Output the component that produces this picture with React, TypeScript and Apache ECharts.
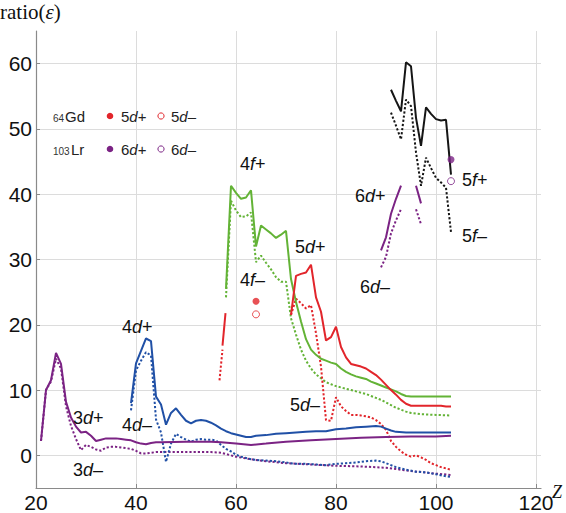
import React, { useEffect, useRef } from "react";
import * as echarts from "echarts";

// ---- data ----
const z3d = [21, 22, 23, 24, 25, 26, 27, 28, 29, 30, 31, 32, 33, 34, 35, 36, 37, 38, 39, 40, 41, 42, 43, 44, 45, 50, 55, 57, 60, 63, 66, 70, 75, 80, 85, 90, 95, 100, 103];
const r3dPlus = [2.2, 10, 11.5, 15.7, 14, 8.2, 5.8, 4.4, 3.5, 3.6, 3.0, 2.2, 2.4, 2.6, 2.6, 2.6, 2.5, 2.4, 2.3, 2.0, 1.8, 1.7, 1.9, 2.0, 2.0, 2.1, 2.1, 2.0, 1.8, 1.6, 1.8, 2.1, 2.3, 2.5, 2.7, 2.8, 2.9, 2.9, 3.0];
const r3dMinus = [2.2, 10, 11.3, 14.8, 13.3, 7.5, 4.5, 2.5, 0.8, 1.6, 1.3, 0.9, 0.7, 1.2, 1.3, 1.3, 1.2, 1.1, 1.0, 0.7, 0.3, 0.3, 0.4, 0.5, 0.5, 0.5, 0.5, 0.4, -0.2, -0.6, -0.9, -1.2, -1.4, -1.6, -1.7, -1.9, -2.4, -2.8, -3.0];

const z4d = [39, 40, 41, 42, 43, 44, 45, 46, 47, 48, 49, 50, 51, 52, 53, 54, 55, 56, 57, 58, 59, 60, 61, 62, 63, 64, 66, 68, 70, 72, 74, 76, 78, 80, 82, 84, 86, 88, 89, 90, 91, 92, 94, 96, 98, 100, 102, 103];
const r4dPlus = [8.0, 14.1, 16.0, 17.9, 17.5, 9.0, 7.8, 4.7, 6.5, 7.2, 6.2, 5.3, 4.9, 5.3, 5.4, 5.3, 5.0, 4.6, 4.1, 3.7, 3.4, 3.2, 3.0, 2.8, 2.8, 3.0, 3.1, 3.3, 3.4, 3.5, 3.6, 3.7, 3.7, 4.0, 4.1, 4.3, 4.4, 4.5, 4.4, 4.1, 3.8, 3.6, 3.5, 3.5, 3.5, 3.5, 3.5, 3.5];
const r4dMinus = [6.9, 13.0, 14.5, 15.8, 15.3, 5.5, 3.5, -1.0, 1.8, 3.3, 2.8, 2.4, 2.1, 2.4, 2.5, 2.4, 2.4, 2.3, 1.6, 1.0, 0.6, 0.1, -0.2, -0.4, -0.6, -0.7, -0.8, -0.9, -1.1, -1.3, -1.3, -1.4, -1.5, -1.3, -1.2, -1.1, -0.9, -0.8, -0.9, -1.2, -1.5, -1.8, -2.2, -2.5, -2.6, -2.9, -3.2, -3.3];

const z4f = [58, 59, 60, 61, 62, 63, 64, 65, 66, 67, 68, 69, 70, 71, 72, 73, 74, 75, 76, 77, 78, 79, 80, 81, 82, 83, 84, 85, 86, 87, 88, 89, 90, 91, 92, 93, 94, 95, 97, 100, 103];
const r4fPlus = [25.5, 41.3, 40.2, 39.3, 39.5, 40.6, 32.0, 35.2, 34.6, 34.0, 33.3, 33.8, 34.4, 27.0, 23.5, 20.5, 17.8, 16.2, 15.4, 14.8, 14.5, 14.2, 14.0, 13.3, 12.8, 12.4, 12.1, 11.9, 11.7, 11.3, 11.0, 10.7, 10.4, 10.1, 9.8, 9.4, 9.1, 9.0, 9.0, 9.0, 9.0];
const r4fMinus = [24.2, 39.0, 37.5, 36.5, 36.6, 37.2, 29.6, 30.6, 29.5, 28.5, 27.3, 26.6, 26.6, 21.0, 18.5, 16.2, 14.5, 13.3, 12.4, 11.8, 11.2, 10.9, 10.6, 10.4, 10.2, 10.0, 9.8, 9.6, 9.4, 9.1, 8.8, 8.5, 8.1, 7.7, 7.3, 7.0, 6.7, 6.5, 6.3, 6.2, 6.1];

const z5dPlusLow = [57.3, 57.9];
const r5dPlusLow = [16.8, 21.8];
const z5dMinusLow = [56.7, 57.3];
const r5dMinusLow = [11.5, 16.2];

const z5d = [71, 72, 73, 74, 75, 76, 77, 78, 79, 80, 81, 82, 83, 84, 85, 86, 87, 88, 89, 90, 91, 92, 93, 94, 95, 96, 97, 98, 99, 100, 101, 102, 103];
const r5dPlus = [21.5, 27.5, 27.8, 28.0, 29.2, 24.2, 22.0, 17.6, 18.1, 19.7, 16.6, 15.0, 14.0, 13.8, 13.6, 13.3, 12.8, 12.3, 11.6, 10.8, 10.0, 9.3, 8.5, 7.9, 7.6, 7.6, 7.6, 7.6, 7.6, 7.6, 7.6, 7.5, 7.5];
const r5dMinus = [21.5, 24.0, 23.3, 22.5, 23.0, 18.7, 13.6, 5.4, 5.3, 8.9, 7.5, 6.8, 6.2, 6.2, 6.1, 6.0, 5.8, 5.4, 4.8, 3.9, 2.2, 1.3, 0.6, 0.1, -0.2, 0.0, -0.3, -0.7, -1.2, -1.5, -1.8, -2.0, -2.2];

const z6dA = [89, 90, 91, 92, 93];
const r6dPlusA = [31.4, 33.4, 37.0, 39.3, 41.3];
const r6dMinusA = [28.8, 30.4, 34.0, 36.0, 37.7];
const z6dB = [96, 97];
const r6dPlusB = [41.3, 38.6];
const r6dMinusB = [37.7, 35.4];

const z5f = [91, 92, 93, 94, 95, 96, 97, 98, 99, 100, 101, 102, 103];
const r5fPlus = [56.0, 54.3, 52.7, 60.2, 59.6, 51.7, 47.4, 53.3, 52.3, 51.5, 51.3, 51.4, 43.0];
const r5fMinus = [52.5, 50.5, 48.4, 54.5, 53.5, 46.4, 41.3, 45.6, 44.0, 42.5, 41.8, 41.0, 34.2];

// single points: 64Gd and 103Lr
const zGd = 64;
const gd5dPlus = 23.6;
const gd5dMinus = 21.6;
const zLr = 103;
const lr6dPlus = 45.3;
const lr6dMinus = 42.0;

// ---- styling ----
const PURPLE = "#7b2384";
const BLUE = "#2050a6";
const RED = "#e2252b";
const GREEN = "#63b336";
const BLACK = "#151515";
const SANS = "'Liberation Sans', Arial, Helvetica, sans-serif";
const SERIF = "'Liberation Serif', 'Times New Roman', serif";

const pairs = (zs: number[], vs: number[]) => zs.map((z, i) => [z, vs[i]]);

function line(name: string, zs: number[], vs: number[], color: string, dotted: boolean) {
  return {
    name,
    type: "line",
    data: pairs(zs, vs),
    showSymbol: false,
    symbol: "none",
    silent: true,
    z: dotted ? 2 : 3,
    lineStyle: { color, width: 2, type: dotted ? [2.2, 2] : "solid" },
  };
}

function label(text: string, x: number, y: number) {
  const [a, b, c] = text.split("|");
  return {
    type: "text",
    x,
    y,
    style: {
      text: `{n|${a}}{i|${b}}{n|${c}}`,
      textVerticalAlign: "middle",
      rich: {
        n: { fontSize: 18, fontFamily: SANS, fill: "#111" },
        i: { fontSize: 18, fontFamily: SANS, fontStyle: "italic", fill: "#111" },
      },
    },
    z: 10,
  };
}

function legendText(text: string, x: number, y: number) {
  const [a, b, c] = text.split("|");
  return {
    type: "text",
    x,
    y,
    style: {
      text: `{n|${a}}{i|${b}}{n|${c}}`,
      textVerticalAlign: "middle",
      rich: {
        n: { fontSize: 15, fontFamily: SANS, fill: "#222" },
        i: { fontSize: 15, fontFamily: SANS, fontStyle: "italic", fill: "#222" },
      },
    },
    z: 10,
  };
}

export default function App() {
  const ref = useRef<HTMLDivElement>(null);
  useEffect(() => {
    if (!ref.current) return;
    const chart = echarts.init(ref.current, null, { renderer: "svg" });
    const option: any = {
      animation: false,
      backgroundColor: "#fff",
      grid: { left: 36, right: 25, top: 31, bottom: 25, containLabel: false },
      xAxis: {
        type: "value",
        min: 20,
        max: 121,
        splitNumber: 5,
        axisLine: { onZero: false, lineStyle: { color: "#8a8a8a", width: 1.2 } },
        axisTick: { inside: true, length: 4, lineStyle: { color: "#8a8a8a" } },
        axisLabel: {
          fontSize: 21,
          fontFamily: SANS,
          color: "#111",
          margin: 4,
          showMaxLabel: false,
          formatter: (v: number) => (v % 20 === 0 ? String(v) : ""),
        },
        splitLine: { show: true, showMinLine: false, showMaxLine: false, lineStyle: { color: "#dcdcdc", width: 1 } },
      },
      yAxis: {
        type: "value",
        min: -5,
        max: 65,
        splitNumber: 7,
        axisLine: { show: true, onZero: false, lineStyle: { color: "#8a8a8a", width: 1.2 } },
        axisTick: { show: true, inside: true, length: 4, lineStyle: { color: "#8a8a8a" } },
        axisLabel: {
          fontSize: 21,
          fontFamily: SANS,
          color: "#111",
          margin: 4,
          showMinLabel: false,
          showMaxLabel: false,
          formatter: (v: number) => (v % 10 === 0 ? String(v) : ""),
        },
        splitLine: { show: true, showMinLine: false, showMaxLine: false, lineStyle: { color: "#dcdcdc", width: 1 } },
      },
      series: [
        line("3d-", z3d, r3dMinus, PURPLE, true),
        line("3d+", z3d, r3dPlus, PURPLE, false),
        line("4d-", z4d, r4dMinus, BLUE, true),
        line("4d+", z4d, r4dPlus, BLUE, false),
        line("4f-", z4f, r4fMinus, GREEN, true),
        line("4f+", z4f, r4fPlus, GREEN, false),
        line("5d- low", z5dMinusLow, r5dMinusLow, RED, true),
        line("5d+ low", z5dPlusLow, r5dPlusLow, RED, false),
        line("5d-", z5d, r5dMinus, RED, true),
        line("5d+", z5d, r5dPlus, RED, false),
        line("6d- a", z6dA, r6dMinusA, PURPLE, true),
        line("6d+ a", z6dA, r6dPlusA, PURPLE, false),
        line("6d- b", z6dB, r6dMinusB, PURPLE, true),
        line("6d+ b", z6dB, r6dPlusB, PURPLE, false),
        line("5f-", z5f, r5fMinus, BLACK, true),
        line("5f+", z5f, r5fPlus, BLACK, false),
        {
          name: "Gd 5d+",
          type: "scatter",
          data: [[zGd, gd5dPlus]],
          symbol: "circle",
          symbolSize: 7,
          itemStyle: { color: RED },
          z: 5,
        },
        {
          name: "Gd 5d-",
          type: "scatter",
          data: [[zGd, gd5dMinus]],
          symbol: "circle",
          symbolSize: 7,
          itemStyle: { color: "#fff", borderColor: RED, borderWidth: 1 },
          z: 5,
        },
        {
          name: "Lr 6d+",
          type: "scatter",
          data: [[zLr, lr6dPlus]],
          symbol: "circle",
          symbolSize: 7,
          itemStyle: { color: PURPLE },
          z: 5,
        },
        {
          name: "Lr 6d-",
          type: "scatter",
          data: [[zLr, lr6dMinus]],
          symbol: "circle",
          symbolSize: 7,
          itemStyle: { color: "#fff", borderColor: PURPLE, borderWidth: 1 },
          z: 5,
        },
      ],
      graphic: [
        {
          type: "text",
          x: 0,
          y: 12,
          style: {
            text: "{n|ratio(}{i|ε}{n|)}",
            textVerticalAlign: "middle",
            rich: {
              n: { fontSize: 21, fontFamily: SERIF, fill: "#111" },
              i: { fontSize: 21, fontFamily: SERIF, fontStyle: "italic", fill: "#111" },
            },
          },
        },
        {
          type: "text",
          x: 552,
          y: 492,
          style: { text: "Z", fontSize: 18, fontFamily: SERIF, fontStyle: "italic", fill: "#111", textVerticalAlign: "middle" },
        },
        { type: "text", x: 53, y: 118, style: { text: "64", fontSize: 10, fontFamily: SANS, fill: "#333", textVerticalAlign: "middle" } },
        { type: "text", x: 65, y: 116, style: { text: "Gd", fontSize: 15, fontFamily: SANS, fill: "#222", textVerticalAlign: "middle" } },
        { type: "circle", shape: { cx: 110, cy: 116, r: 3.3 }, style: { fill: RED } },
        legendText("5|d|+", 121, 116),
        { type: "circle", shape: { cx: 161, cy: 116, r: 3.1 }, style: { fill: "#fff", stroke: RED, lineWidth: 1 } },
        legendText("5|d|–", 171, 116),
        { type: "text", x: 53, y: 151, style: { text: "103", fontSize: 10, fontFamily: SANS, fill: "#333", textVerticalAlign: "middle" } },
        { type: "text", x: 71, y: 149, style: { text: "Lr", fontSize: 15, fontFamily: SANS, fill: "#222", textVerticalAlign: "middle" } },
        { type: "circle", shape: { cx: 110, cy: 149, r: 3.3 }, style: { fill: PURPLE } },
        legendText("6|d|+", 121, 149),
        { type: "circle", shape: { cx: 161, cy: 149, r: 3.1 }, style: { fill: "#fff", stroke: PURPLE, lineWidth: 1 } },
        legendText("6|d|–", 171, 149),
        label("4|f|+", 240, 164),
        label("4|f|–", 240, 280),
        label("5|d|+", 295, 247),
        label("5|d|–", 290, 405),
        label("6|d|+", 355, 196),
        label("6|d|–", 360, 287),
        label("5|f|+", 462, 180),
        label("5|f|–", 462, 236),
        label("4|d|+", 122, 327),
        label("4|d|–", 122, 425),
        label("3|d|+", 73, 418),
        label("3|d|–", 73, 470),
      ],
    };
    chart.setOption(option);
    return () => chart.dispose();
  }, []);
  return <div ref={ref} style={{ position: "fixed", left: 0, top: 0, width: 566, height: 513 }} />;
}
